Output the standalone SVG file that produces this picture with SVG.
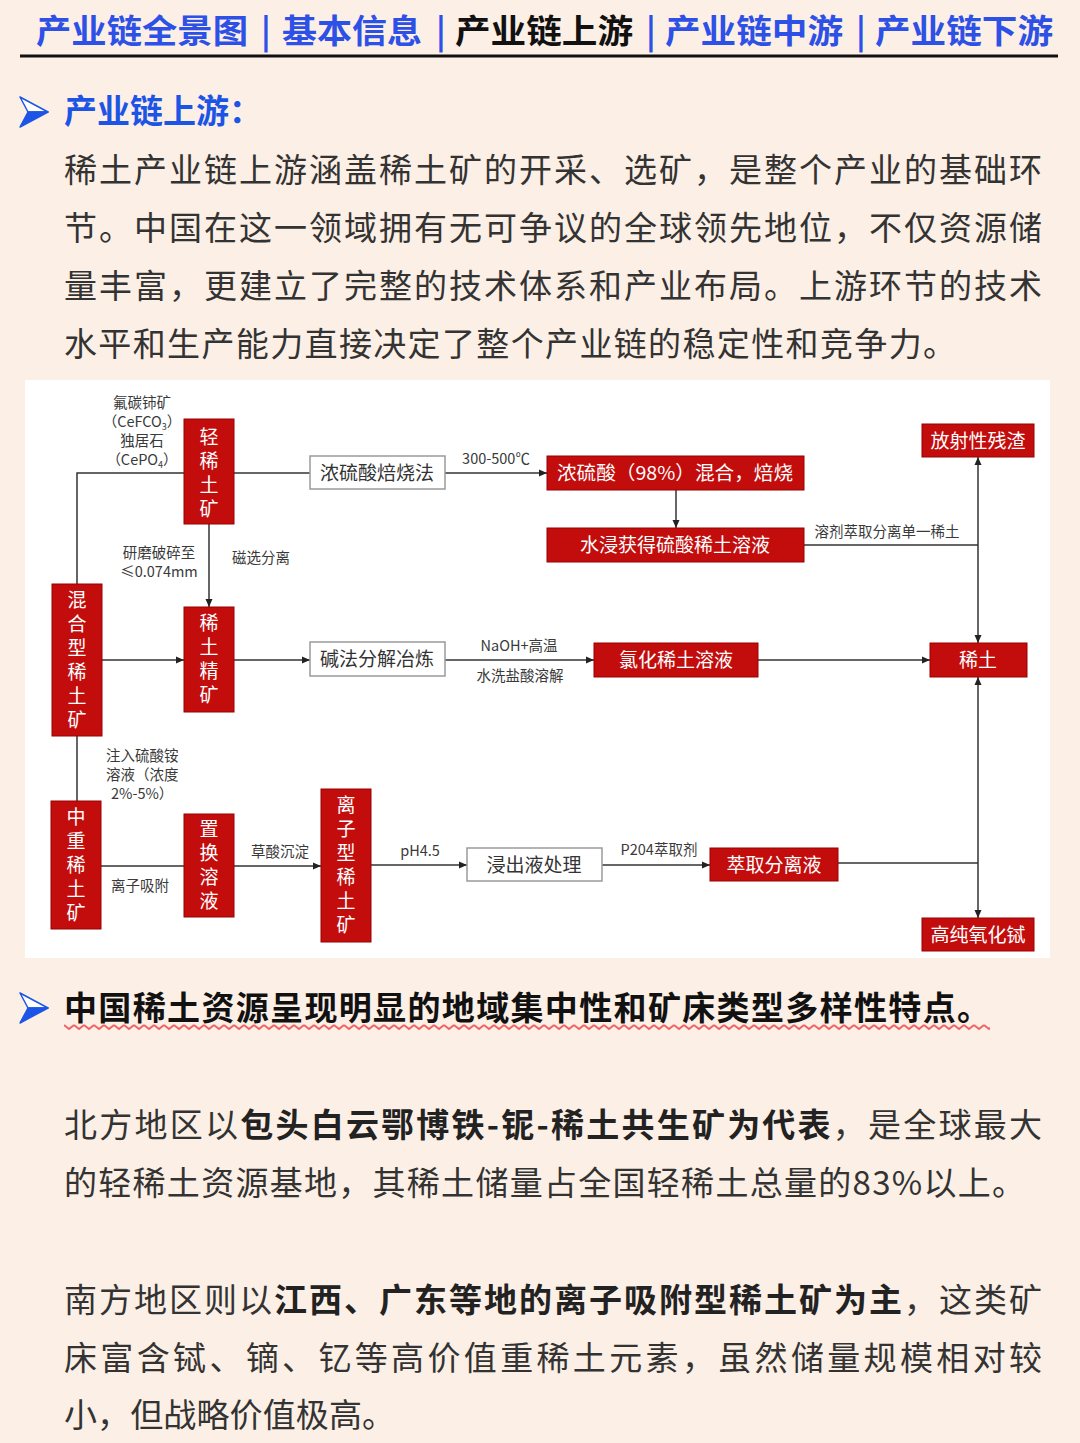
<svg xmlns="http://www.w3.org/2000/svg" width="1080" height="1443" viewBox="0 0 1080 1443">
<defs>
<style>
.cjk{font-family:"Noto Sans CJK SC","Noto Sans",sans-serif}
.tab{font-family:"Noto Sans CJK SC",sans-serif;font-size:33px;font-weight:bold;fill:#2d50e6}
.body{font-family:"Noto Sans CJK SC",sans-serif;font-size:33px;fill:#333}
.red{fill:#c30d0d;stroke:#9a0000;stroke-width:1}
.wbox{fill:#fff;stroke:#9a9a9a;stroke-width:1.5}
.nt{font-family:"Noto Sans CJK SC",sans-serif;font-size:19px;fill:#fff;text-anchor:middle}
.vt{font-family:"Noto Sans CJK SC",sans-serif;font-size:19px;fill:#fff;text-anchor:middle;writing-mode:vertical-rl;letter-spacing:5px}
.bt{font-family:"Noto Sans CJK SC",sans-serif;font-size:19px;fill:#333;text-anchor:middle}
.lbl{font-family:"Noto Sans CJK SC","Liberation Sans",sans-serif;font-size:14.5px;fill:#3a3a3a;text-anchor:middle}
.ln{stroke:#333;stroke-width:1.5;fill:none}
.arr{marker-end:url(#ah)}
</style>
<marker id="ah" markerWidth="8" markerHeight="8" refX="8" refY="4" orient="auto" markerUnits="userSpaceOnUse">
<path d="M0,0.5 L8,4 L0,7.5 z" fill="#222"/>
</marker>
<pattern id="wave" x="64" y="1023" width="10" height="8" patternUnits="userSpaceOnUse">
<polyline points="0,2 5,6 10,2" fill="none" stroke="#f06464" stroke-width="2"/>
</pattern>
</defs>
<rect x="0" y="0" width="1080" height="1443" fill="#fcefe5"/>

<g id="header">
<text class="tab" x="36" y="43" textLength="212" lengthAdjust="spacingAndGlyphs">产业链全景图</text>
<text class="tab" x="261" y="43">|</text>
<text class="tab" x="282" y="43" textLength="140" lengthAdjust="spacingAndGlyphs">基本信息</text>
<text class="tab" x="436" y="43">|</text>
<text class="tab" x="455" y="43" textLength="178" lengthAdjust="spacingAndGlyphs" style="fill:#111">产业链上游</text>
<text class="tab" x="646" y="43">|</text>
<text class="tab" x="665" y="43" textLength="178" lengthAdjust="spacingAndGlyphs">产业链中游</text>
<text class="tab" x="856" y="43">|</text>
<text class="tab" x="875" y="43" textLength="178" lengthAdjust="spacingAndGlyphs">产业链下游</text>
<line x1="20" y1="56" x2="1058" y2="56" stroke="#111" stroke-width="3"/>
</g>

<g id="section1">
<path d="M20,97 L48,112 L28,112 Z" fill="#fff" stroke="#1c55e6" stroke-width="1.5" stroke-linejoin="round"/>
<path d="M28,112 L48,112 L20,127 Z" fill="#1c55e6" stroke="#1c55e6" stroke-width="1.5" stroke-linejoin="round"/>
<text class="cjk" x="64" y="123" font-size="33" font-weight="bold" fill="#1c55e6">产业链上游：</text>
<text class="body" x="64" y="182" textLength="978" lengthAdjust="spacing">稀土产业链上游涵盖稀土矿的开采、选矿，是整个产业的基础环</text>
<text class="body" x="64" y="240" textLength="978" lengthAdjust="spacing">节。中国在这一领域拥有无可争议的全球领先地位，不仅资源储</text>
<text class="body" x="64" y="298" textLength="978" lengthAdjust="spacing">量丰富，更建立了完整的技术体系和产业布局。上游环节的技术</text>
<text class="body" x="64" y="356" textLength="892" lengthAdjust="spacing">水平和生产能力直接决定了整个产业链的稳定性和竞争力。</text>
</g>

<rect x="25" y="380" width="1025" height="578" fill="#fff"/>

<g id="connectors">
<path class="ln" d="M77,584 V473 H184"/>
<path class="ln" d="M234,473 H310"/>
<path class="ln arr" d="M445,473 H547"/>
<path class="ln arr" d="M676,490 V528"/>
<path class="ln" d="M804,545 H978"/>
<path class="ln arr" d="M978,545 V457"/>
<path class="ln arr" d="M978,545 V643"/>
<path class="ln arr" d="M209,524 V607"/>
<path class="ln arr" d="M102,660 H184"/>
<path class="ln arr" d="M234,660 H310"/>
<path class="ln arr" d="M445,660 H594"/>
<path class="ln arr" d="M758,660 H930"/>
<path class="ln" d="M77,736 V801"/>
<path class="ln" d="M101,866 H184"/>
<path class="ln arr" d="M234,866 H321"/>
<path class="ln arr" d="M371,865 H467"/>
<path class="ln arr" d="M602,865 H710"/>
<path class="ln" d="M838,863 H978"/>
<path class="ln arr" d="M978,863 V677"/>
<path class="ln arr" d="M978,863 V918"/>
</g>

<g id="labels">
<text class="lbl" x="142" y="408">氟碳铈矿<tspan x="142" dy="19">（CeFCO</tspan><tspan font-size="9" dy="3">3</tspan><tspan dy="-3">）</tspan><tspan x="142" dy="19">独居石</tspan><tspan x="142" dy="19">（CePO</tspan><tspan font-size="9" dy="3">4</tspan><tspan dy="-3">）</tspan></text>
<text class="lbl" x="159" y="558">研磨破碎至<tspan x="159" dy="19">≤0.074mm</tspan></text>
<text class="lbl" x="261" y="563">磁选分离</text>
<text class="lbl" x="496" y="464" font-size="16">300-500℃</text>
<text class="lbl" x="887" y="537">溶剂萃取分离单一稀土</text>
<text class="lbl" x="519" y="651" font-size="15.5">NaOH+高温</text>
<text class="lbl" x="520" y="681">水洗盐酸溶解</text>
<text class="lbl" x="106" y="761" style="text-anchor:start">注入硫酸铵<tspan x="106" dy="19">溶液（浓度</tspan><tspan x="111" dy="19">2%-5%）</tspan></text>
<text class="lbl" x="140" y="891">离子吸附</text>
<text class="lbl" x="280" y="857">草酸沉淀</text>
<text class="lbl" x="420" y="856" font-size="15.5">pH4.5</text>
<text class="lbl" x="659" y="855" font-size="15.5">P204萃取剂</text>
</g>

<g id="n-qingxitu">
<rect class="red" x="184" y="419" width="50" height="105"/>
<text class="vt" x="209" y="475.5">轻稀土矿</text>
</g>
<g id="n-hunhe">
<rect class="red" x="52" y="584" width="50" height="152"/>
<text class="vt" x="77" y="662.5">混合型稀土矿</text>
</g>
<g id="n-jingkuang">
<rect class="red" x="184" y="607" width="50" height="105"/>
<text class="vt" x="209" y="661.5">稀土精矿</text>
</g>
<g id="n-zhongzhong">
<rect class="red" x="51" y="801" width="50" height="128"/>
<text class="vt" x="76" y="867.5">中重稀土矿</text>
</g>
<g id="n-zhihuan">
<rect class="red" x="184" y="814" width="50" height="103"/>
<text class="vt" x="209" y="867.5">置换溶液</text>
</g>
<g id="n-lizi">
<rect class="red" x="321" y="789" width="50" height="153"/>
<text class="vt" x="346" y="867.5">离子型稀土矿</text>
</g>
<g id="n-beishao">
<rect class="wbox" x="310" y="456" width="135" height="33"/>
<text class="bt" x="377" y="480">浓硫酸焙烧法</text>
</g>
<g id="n-hunhebeishao">
<rect class="red" x="547" y="456" width="257" height="34"/>
<text class="nt" x="675" y="480" textLength="236" lengthAdjust="spacingAndGlyphs">浓硫酸（98%）混合，焙烧</text>
</g>
<g id="n-shuijin">
<rect class="red" x="547" y="528" width="257" height="34"/>
<text class="nt" x="675" y="552">水浸获得硫酸稀土溶液</text>
</g>
<g id="n-fangshe">
<rect class="red" x="922" y="424" width="112" height="33"/>
<text class="nt" x="978" y="448">放射性残渣</text>
</g>
<g id="n-jianfa">
<rect class="wbox" x="310" y="642" width="135" height="34"/>
<text class="bt" x="377" y="666">碱法分解冶炼</text>
</g>
<g id="n-luhua">
<rect class="red" x="594" y="643" width="164" height="34"/>
<text class="nt" x="676" y="667">氯化稀土溶液</text>
</g>
<g id="n-xitu">
<rect class="red" x="930" y="643" width="97" height="34"/>
<text class="nt" x="978" y="667">稀土</text>
</g>
<g id="n-jinchu">
<rect class="wbox" x="467" y="848" width="135" height="33"/>
<text class="bt" x="534" y="872">浸出液处理</text>
</g>
<g id="n-cuiqu">
<rect class="red" x="710" y="848" width="128" height="33"/>
<text class="nt" x="774" y="872">萃取分离液</text>
</g>
<g id="n-gaochun">
<rect class="red" x="922" y="918" width="112" height="33"/>
<text class="nt" x="978" y="942">高纯氧化铽</text>
</g>

<g id="section2">
<path d="M20,993 L48,1008 L28,1008 Z" fill="#fff" stroke="#1c55e6" stroke-width="1.5" stroke-linejoin="round"/>
<path d="M28,1008 L48,1008 L20,1023 Z" fill="#1c55e6" stroke="#1c55e6" stroke-width="1.5" stroke-linejoin="round"/>
<rect x="64" y="1023" width="926" height="8" fill="url(#wave)"/>
<text class="cjk" x="64" y="1020" font-size="33" font-weight="bold" fill="#111" textLength="926" lengthAdjust="spacing">中国稀土资源呈现明显的地域集中性和矿床类型多样性特点。</text>
<text class="body" x="64" y="1137" textLength="978" lengthAdjust="spacing">北方地区以<tspan font-weight="bold" fill="#222">包头白云鄂博铁-铌-稀土共生矿为代表</tspan>，是全球最大</text>
<text class="body" x="64" y="1195" textLength="961" lengthAdjust="spacing">的轻稀土资源基地，其稀土储量占全国轻稀土总量的83%以上。</text>
<text class="body" x="64" y="1312" textLength="978" lengthAdjust="spacing">南方地区则以<tspan font-weight="bold" fill="#222">江西、广东等地的离子吸附型稀土矿为主</tspan>，这类矿</text>
<text class="body" x="64" y="1370" textLength="978" lengthAdjust="spacing">床富含铽、镝、钇等高价值重稀土元素，虽然储量规模相对较</text>
<text class="body" x="64" y="1427" textLength="331" lengthAdjust="spacing">小，但战略价值极高。</text>
</g>
</svg>
